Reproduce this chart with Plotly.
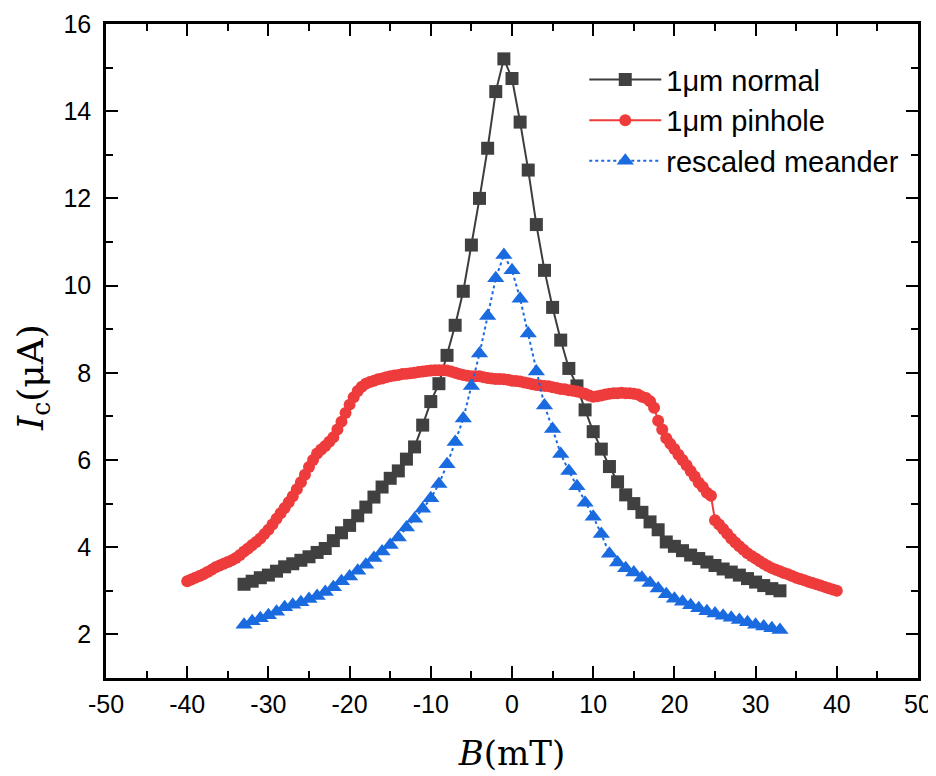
import plotly.graph_objects as go

# 1um normal (black squares)
b_normal = list(range(-33, 34))
i_normal = [3.15, 3.22, 3.30, 3.36, 3.45, 3.55, 3.62, 3.70, 3.78, 3.88,
            3.97, 4.15, 4.33, 4.50, 4.72, 4.92, 5.15, 5.38, 5.58, 5.75,
            6.02, 6.30, 6.80, 7.34, 7.75, 8.40, 9.09, 9.87, 10.93, 12.00,
            13.15, 14.45, 15.20, 14.75, 13.75, 12.65, 11.40, 10.35, 9.50, 8.75,
            8.10, 7.70, 7.15, 6.65, 6.25, 5.85, 5.50, 5.20, 5.00, 4.80,
            4.58, 4.40, 4.12, 4.02, 3.92, 3.82, 3.74, 3.66, 3.58, 3.50,
            3.43, 3.36, 3.28, 3.20, 3.12, 3.05, 3.00]

# 1um pinhole (red circles), field in 0.5 mT steps from -40 to 40
b_pinhole = [k / 2 for k in range(-80, 81)]
i_pinhole = [3.22, 3.26, 3.30, 3.34, 3.38, 3.43, 3.48, 3.54, 3.58, 3.62,
             3.66, 3.70, 3.75, 3.82, 3.90, 3.97, 4.05, 4.12, 4.20, 4.30,
             4.40, 4.52, 4.65, 4.78, 4.90, 5.03, 5.17, 5.33, 5.49, 5.66,
             5.84, 6.00, 6.15, 6.24, 6.32, 6.42, 6.52, 6.70, 6.88, 7.08,
             7.27, 7.44, 7.58, 7.68, 7.75, 7.79, 7.82, 7.85, 7.87, 7.90,
             7.92, 7.94, 7.95, 7.97, 7.98, 7.99, 8.00, 8.02, 8.03, 8.04,
             8.05, 8.06, 8.06, 8.06, 8.05, 8.03, 8.00, 7.97, 7.95, 7.93,
             7.92, 7.92, 7.92, 7.90, 7.88, 7.87, 7.86, 7.86, 7.85, 7.84,
             7.82, 7.81, 7.80, 7.78, 7.76, 7.74, 7.72, 7.71, 7.70, 7.69,
             7.67, 7.65, 7.63, 7.62, 7.60, 7.59, 7.57, 7.55, 7.52, 7.48,
             7.45, 7.46, 7.48, 7.50, 7.52, 7.53, 7.53, 7.54, 7.53, 7.53,
             7.52, 7.50, 7.45, 7.42, 7.35, 7.20, 6.90, 6.70, 6.50, 6.37,
             6.25, 6.12, 6.00, 5.88, 5.75, 5.62, 5.48, 5.38, 5.25, 5.18,
             4.62, 4.52, 4.42, 4.31, 4.20, 4.11, 4.02, 3.94, 3.86, 3.80,
             3.74, 3.68, 3.62, 3.57, 3.52, 3.48, 3.45, 3.41, 3.38, 3.34,
             3.30, 3.27, 3.24, 3.21, 3.18, 3.15, 3.12, 3.09, 3.06, 3.03,
             3.00]

# rescaled meander (blue triangles)
b_meander = list(range(-33, 34))
i_meander = [2.22, 2.30, 2.37, 2.44, 2.52, 2.62, 2.68, 2.74, 2.81, 2.88,
             2.97, 3.08, 3.22, 3.33, 3.46, 3.60, 3.75, 3.90, 4.05, 4.22,
             4.45, 4.65, 4.88, 5.12, 5.45, 5.90, 6.41, 6.95, 7.70, 8.44,
             9.30, 10.17, 10.70, 10.35, 9.70, 8.90, 8.03, 7.25, 6.71, 6.14,
             5.75, 5.40, 5.02, 4.70, 4.30, 3.85, 3.65, 3.52, 3.42, 3.30,
             3.18, 3.05, 2.92, 2.82, 2.75, 2.67, 2.60, 2.53, 2.48, 2.43,
             2.38, 2.33, 2.28, 2.22, 2.18, 2.14, 2.10]

x_tick_vals = [-50, -40, -30, -20, -10, 0, 10, 20, 30, 40, 50]
x_tick_labels = ["-50", "-40", "-30", "-20", "-10", "0", "10", "20", "30", "40", "50"]
y_tick_vals = [2, 4, 6, 8, 10, 12, 14, 16]
y_tick_labels = ["2", "4", "6", "8", "10", "12", "14", "16"]

fig = go.Figure()
fig.add_trace(go.Scatter(
    x=b_normal, y=i_normal, mode="lines+markers", name="1μm normal",
    legendgroup="a",
    line=dict(color="#3d3d3d", width=2),
    marker=dict(symbol="square", size=13, color="#404040"),
))
fig.add_trace(go.Scatter(
    x=b_pinhole, y=i_pinhole, mode="lines+markers", name="1μm pinhole",
    legendgroup="b",
    line=dict(color="#ee3b3b", width=2),
    marker=dict(symbol="circle", size=12, color="#ee3b3b"),
))
fig.add_trace(go.Scatter(
    x=b_meander, y=i_meander, mode="lines+markers", name="rescaled meander",
    legendgroup="c",
    line=dict(color="#1a6ae0", width=2, dash="dot"),
    marker=dict(symbol="triangle-up", size=15, color="#1a6ae0"),
))

axis_common = dict(
    showline=True, linecolor="black", linewidth=2.5, mirror="allticks",
    ticks="inside", ticklen=12, tickwidth=2, tickcolor="black",
    showgrid=False, zeroline=False,
    tickfont=dict(family="Liberation Sans, Arial", size=25, color="black"),
)

title_font = dict(family="DejaVu Serif, Liberation Serif", size=34, color="black")

fig.update_xaxes(
    range=[-50, 50], tickvals=x_tick_vals, ticktext=x_tick_labels,
    minor=dict(ticks="inside", ticklen=7, tickwidth=2, tickcolor="black", dtick=5, tick0=0),
    ticklabelstandoff=2, automargin="bottom",
    title=dict(text="<i>B</i>(mT)", font=title_font, standoff=25),
    **axis_common,
)
fig.update_yaxes(
    range=[1, 16], tickvals=y_tick_vals, ticktext=y_tick_labels,
    minor=dict(ticks="inside", ticklen=7, tickwidth=2, tickcolor="black", dtick=1, tick0=0),
    ticklabelstandoff=7, automargin=False,
    **axis_common,
)

fig.add_annotation(
    text="<i>I</i><sub>c</sub>(μA)", textangle=-90,
    xref="paper", yref="paper", x=-0.09, y=0.46,
    xanchor="center", yanchor="middle", showarrow=False,
    font=dict(family="DejaVu Serif, Liberation Serif", size=36, color="black"),
)

fig.update_layout(
    width=936, height=776,
    margin=dict(l=98, r=26, t=16, b=106),
    plot_bgcolor="white", paper_bgcolor="white",
    showlegend=True,
    legend=dict(
        x=0.589, y=0.954, xanchor="left", yanchor="top",
        bgcolor="rgba(0,0,0,0)", traceorder="grouped", tracegroupgap=0,
        font=dict(family="Liberation Sans, Arial", size=29, color="black"),
        itemwidth=72,
    ),
)

fig.write_html("out.html")
